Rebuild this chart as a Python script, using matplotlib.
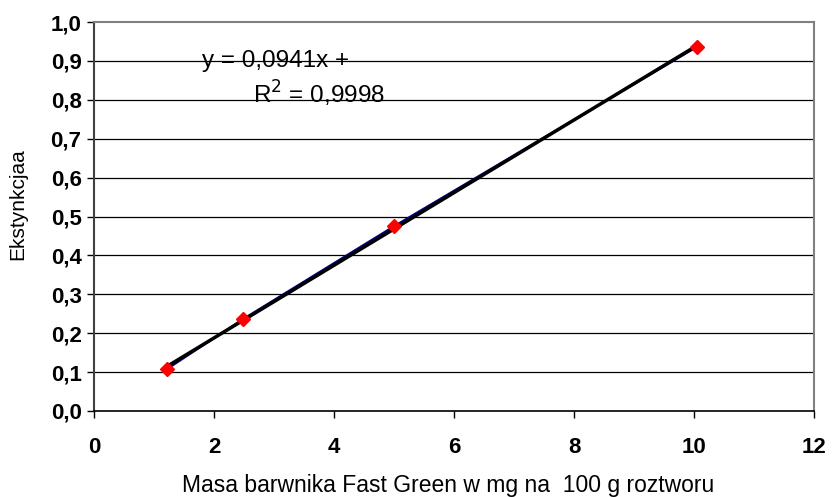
import numpy as np
import matplotlib.pyplot as plt

plt.rcParams['font.family'] = ['Liberation Sans', 'DejaVu Sans']

masa = [1.22, 2.48, 5.0, 10.05]
ekstynkcja = [0.108, 0.236, 0.475, 0.936]
y_ticks = [0.0, 0.1, 0.2, 0.3, 0.4, 0.5, 0.6, 0.7, 0.8, 0.9, 1.0]
x_ticks = [0, 2, 4, 6, 8, 10, 12]

fig = plt.figure(figsize=(8.34, 4.97), dpi=100)
ax = fig.add_axes([94 / 834, 1 - 411 / 497, 720 / 834, 389 / 497])

# grid lines
for t in y_ticks[1:-1]:
    ax.axhline(t, color='black', lw=0.9, zorder=1)

# data series (dark blue line) and trend line
ax.plot(masa, ekstynkcja, color='#000080', lw=1.5, zorder=2)
a, b = np.polyfit(masa, ekstynkcja, 1)
xs = np.array([masa[0], masa[-1]])
ax.plot(xs, a * xs + b, color='black', lw=2.5, zorder=3)
ax.plot(masa, ekstynkcja, linestyle='none', marker='D', color='red',
        markersize=7, zorder=4)

ax.set_xlim(0, 12)
ax.set_ylim(0, 1.0)
ax.set_xticks(x_ticks)
ax.set_yticks(y_ticks)
ax.set_xticklabels([str(t) for t in x_ticks], fontsize=16, fontweight='bold')
ax.set_yticklabels([f'{t:.1f}'.replace('.', ',') for t in y_ticks],
                   fontsize=16, fontweight='bold')
ax.tick_params(axis='x', direction='out', length=5, width=1, pad=14)
ax.tick_params(axis='y', direction='out', length=5, width=1, pad=4)

ax.spines['top'].set_color('#808080')
ax.spines['right'].set_color('#808080')
ax.spines['top'].set_linewidth(1.5)
ax.spines['right'].set_linewidth(1.5)
ax.spines['left'].set_color('#404040')
ax.spines['left'].set_linewidth(1.5)
ax.spines['bottom'].set_linewidth(1.2)

fig.text(448.5 / 834, 5 / 497, 'Masa barwnika Fast Green w mg na  100 g roztworu',
         fontsize=16.5, ha='center', va='baseline')
ax.set_ylabel('Ekstynkcjaa', fontsize=15)
ax.yaxis.set_label_coords(-0.093, 0.532)

ax.text(1.8, 0.884, 'y = 0,0941x +', fontsize=17.5, va='baseline', ha='left')
ax.text(2.65, 0.789, 'R$^2$ = 0,9998', fontsize=17.5, va='baseline', ha='left')

fig.savefig('out.png', dpi=100)
